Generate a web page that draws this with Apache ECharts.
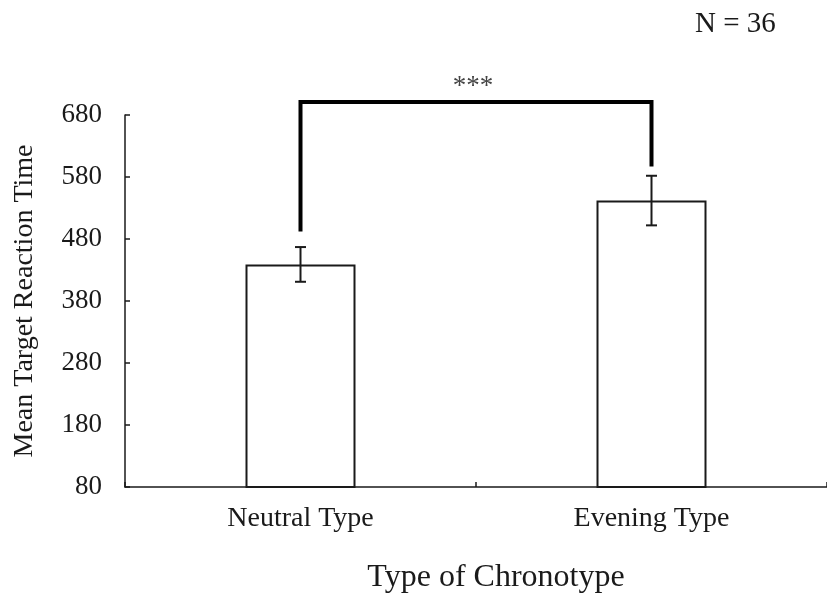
<!DOCTYPE html>
<html>
<head>
<meta charset="utf-8">
<script src="https://cdn.jsdelivr.net/npm/echarts@6/dist/echarts.min.js"></script>
<style>
  html, body { margin: 0; padding: 0; background: #fff; }
  #chart { width: 827px; height: 596px; }
</style>
</head>
<body>
<div id="chart"></div>
<script>
// Chronotype groups and their mean target reaction times (ms) with error margins
const categories = ['Neutral Type', 'Evening Type'];
const meanRT = [439, 542];
const errorRT = [28, 40];
const yTicks = [80, 180, 280, 380, 480, 580, 680];

// Significance bracket: left leg foot, top rail, right leg foot (in RT units)
const bracketLevels = [492, 701, 597];
const significance = '***';
const sampleNote = 'N = 36';

const serif = '"Liberation Serif", "Times New Roman", serif';
const ink = '#1a1a1a';

const chart = echarts.init(document.getElementById('chart'), null, { renderer: 'canvas' });

const errorData = categories.map((c, i) => [i, meanRT[i] - errorRT[i], meanRT[i] + errorRT[i]]);
const bracketData = [
  [0, bracketLevels[0]],
  [0, bracketLevels[1]],
  [1, bracketLevels[1]],
  [1, bracketLevels[2]]
];

chart.setOption({
  animation: false,
  backgroundColor: '#fff',
  grid: { left: 125, right: 0, top: 115, bottom: 109, containLabel: false, outerBoundsMode: 'none' },
  xAxis: {
    type: 'category',
    data: categories,
    name: 'Type of Chronotype',
    nameLocation: 'middle',
    nameGap: 75,
    nameTextStyle: { fontFamily: serif, fontSize: 32, color: ink, padding: [0, 0, 0, 40] },
    axisLine: { lineStyle: { color: ink, width: 1.5 } },
    axisTick: { show: true, inside: true, length: 5, alignWithLabel: false, lineStyle: { color: ink, width: 1.5 } },
    axisLabel: { fontFamily: serif, fontSize: 28, color: ink, margin: 18 }
  },
  yAxis: {
    type: 'value',
    min: 80,
    max: 680,
    interval: 100,
    name: 'Mean Target Reaction Time',
    nameLocation: 'middle',
    nameGap: 86,
    nameTextStyle: { fontFamily: serif, fontSize: 28, color: ink },
    splitLine: { show: false },
    axisLine: { show: true, lineStyle: { color: ink, width: 1.5 } },
    axisTick: { show: true, inside: true, length: 5, lineStyle: { color: ink, width: 1.5 } },
    axisLabel: {
      fontFamily: serif, fontSize: 27, color: ink, margin: 23,
      formatter: v => (yTicks.indexOf(v) >= 0 ? String(v) : '')
    }
  },
  series: [
    {
      type: 'bar',
      data: meanRT,
      barWidth: 110,
      itemStyle: { color: '#fff', borderColor: ink, borderWidth: 2 }
    },
    {
      type: 'custom',
      data: errorData,
      clip: false,
      z: 5,
      renderItem: function (params, api) {
        const x = api.value(0);
        const lo = api.coord([x, api.value(1)]);
        const hi = api.coord([x, api.value(2)]);
        const half = 5.5;
        const st = { stroke: ink, lineWidth: 2 };
        return {
          type: 'group',
          children: [
            { type: 'line', shape: { x1: hi[0], y1: hi[1], x2: lo[0], y2: lo[1] }, style: st },
            { type: 'line', shape: { x1: hi[0] - half, y1: hi[1], x2: hi[0] + half, y2: hi[1] }, style: st },
            { type: 'line', shape: { x1: lo[0] - half, y1: lo[1], x2: lo[0] + half, y2: lo[1] }, style: st }
          ]
        };
      }
    },
    {
      type: 'line',
      data: bracketData,
      clip: false,
      symbol: 'none',
      z: 6,
      lineStyle: { color: '#000', width: 4, cap: 'butt', join: 'miter' }
    }
  ],
  graphic: [
    {
      type: 'text',
      left: 695,
      top: 10,
      style: { text: sampleNote, fontFamily: serif, fontSize: 29, fill: ink }
    },
    {
      type: 'text',
      x: 473,
      y: 87,
      style: { text: significance, fontFamily: serif, fontSize: 27, fill: '#444', align: 'center', verticalAlign: 'middle' }
    }
  ]
});
</script>
</body>
</html>
